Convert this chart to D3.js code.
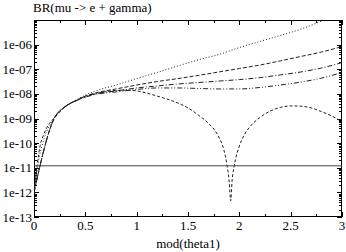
<!DOCTYPE html>
<html>
<head>
<meta charset="utf-8">
<script src="https://cdn.jsdelivr.net/npm/d3@7"></script>
<style>
  body { margin: 0; background: #fff; }
  text { font-family: "Liberation Serif", "Times New Roman", Times, "DejaVu Serif", serif; font-size: 13px; fill: #000; }
</style>
</head>
<body>
<script>
// x values (mod(theta1)) and log10(BR)
var thetaA = [0, 0.2, 0.3, 0.4, 0.5, 0.6, 0.8, 1.0, 1.2, 1.4, 1.6, 1.8, 2.0, 2.2, 2.4, 2.6, 2.8, 3.0];
var thetaB = [0, 0.05, 0.1, 0.2, 0.3, 0.4, 0.5, 0.6, 0.8, 1.0, 1.2, 1.4, 1.6, 1.8, 2.0, 2.2, 2.4, 2.6, 2.8, 3.0];
var dotted  = [-12.0, -10.6, -9.8, -8.97, -8.52, -8.28, -8.05, -7.88, -7.64, -7.38, -7.13, -6.87, -6.62, -6.40, -6.12, -5.87, -5.63, -5.37, -5.04, -4.68];
var dashed  = [-12.0, -8.97, -8.53, -8.29, -8.09, -7.96, -7.80, -7.64, -7.50, -7.38, -7.25, -7.11, -6.97, -6.83, -6.66, -6.48, -6.30, -6.08];
var dashDot = [-12.0, -8.97, -8.53, -8.29, -8.10, -7.99, -7.88, -7.76, -7.68, -7.60, -7.54, -7.48, -7.42, -7.34, -7.23, -7.11, -6.95, -6.73];
var dashDotDot = [-12.0, -8.97, -8.53, -8.30, -8.13, -8.02, -7.92, -7.82, -7.76, -7.76, -7.78, -7.80, -7.80, -7.74, -7.64, -7.52, -7.36, -7.13];

var thetaC = [0, 0.03, 0.06, 0.1, 0.15, 0.2, 0.3, 0.4, 0.5, 0.6, 0.8, 0.9, 1.0, 1.2, 1.4, 1.5, 1.6, 1.7, 1.8, 1.85, 1.88, 1.9, 1.916,
              1.93, 1.95, 2.0, 2.05, 2.1, 2.2, 2.3, 2.4, 2.5, 2.6, 2.7, 2.8, 2.9, 3.0];
var dip = [-12.0, -10.9, -10.1, -9.6, -9.2, -8.97, -8.53, -8.29, -8.13, -8.0, -7.86, -7.85, -7.88, -8.09, -8.37, -8.57, -8.86, -9.20, -9.75, -10.28, -10.89, -11.5, -12.34,
           -11.5, -10.93, -10.12, -9.65, -9.35, -8.96, -8.70, -8.55, -8.49, -8.50, -8.57, -8.72, -8.90, -9.13];

var megLimit = 1.2e-11;

var xTicks = [0, 0.5, 1, 1.5, 2, 2.5, 3];
var xTickLabels = ["0", "0.5", "1", "1.5", "2", "2.5", "3"];
var yTicks = [1e-13, 1e-12, 1e-11, 1e-10, 1e-9, 1e-8, 1e-7, 1e-6];
var yTickLabels = ["1e-13", "1e-12", "1e-11", "1e-10", "1e-09", "1e-08", "1e-07", "1e-06"];

var width = 346, height = 252;
var pLeft = 34, pRight = 342, pTop = 20, pBottom = 217;

var svg = d3.select('body').append('svg')
  .attr('width', width)
  .attr('height', height);

var x = d3.scaleLinear().domain([0, 3]).range([pLeft, pRight]);
var y = d3.scaleLog().domain([1e-13, 1e-5]).range([pBottom, pTop]);

svg.append('clipPath').attr('id', 'plot')
  .append('rect')
    .attr('x', pLeft).attr('y', pTop)
    .attr('width', pRight - pLeft).attr('height', pBottom - pTop);

// minor ticks
var xMinor = d3.range(0, 3.001, 0.25);
var yMinor = [];
for (var e = -13; e < -5; e++) {
  for (var m = 2; m <= 9; m++) yMinor.push(m * Math.pow(10, e));
}

var ticks = svg.append('g').attr('stroke', '#000').attr('stroke-width', 1);

xMinor.forEach(function(v) {
  var major = xTicks.indexOf(v) >= 0;
  var len = major ? 5 : 3;
  var px = Math.round(x(v)) + 0.5;
  ticks.append('line').attr('x1', px).attr('x2', px).attr('y1', pBottom).attr('y2', pBottom - len);
  ticks.append('line').attr('x1', px).attr('x2', px).attr('y1', pTop).attr('y2', pTop + len);
});

yTicks.forEach(function(v) {
  var py = Math.round(y(v)) + 0.5;
  ticks.append('line').attr('x1', pLeft).attr('x2', pLeft + 5).attr('y1', py).attr('y2', py);
  ticks.append('line').attr('x1', pRight).attr('x2', pRight - 5).attr('y1', py).attr('y2', py);
});
yMinor.forEach(function(v) {
  var py = Math.round(y(v)) + 0.5;
  ticks.append('line').attr('x1', pLeft).attr('x2', pLeft + 3).attr('y1', py).attr('y2', py);
  ticks.append('line').attr('x1', pRight).attr('x2', pRight - 3).attr('y1', py).attr('y2', py);
});

// frame
svg.append('rect')
  .attr('x', pLeft + 0.5).attr('y', pTop + 0.5)
  .attr('width', pRight - pLeft - 1).attr('height', pBottom - pTop - 1)
  .attr('fill', 'none').attr('stroke', '#000').attr('stroke-width', 1);

// tick labels
svg.selectAll('.xlab').data(xTicks).enter().append('text')
  .attr('class', 'xlab')
  .attr('x', function(d) { return x(d); })
  .attr('y', 230)
  .attr('text-anchor', 'middle')
  .text(function(d, i) { return xTickLabels[i]; });

svg.selectAll('.ylab').data(yTicks).enter().append('text')
  .attr('class', 'ylab')
  .attr('x', 32)
  .attr('y', function(d) { return y(d) + 4.5; })
  .attr('text-anchor', 'end')
  .text(function(d, i) { return yTickLabels[i]; });

svg.append('text').attr('x', 33).attr('y', 12).text('BR(mu -> e + gamma)');
svg.append('text').attr('x', (pLeft + pRight) / 2).attr('y', 248)
  .attr('text-anchor', 'middle').text('mod(theta1)');

// curves
var plot = svg.append('g').attr('clip-path', 'url(#plot)');

var line = function(xs) {
  return d3.line()
    .x(function(d, i) { return x(xs[i]); })
    .y(function(d) { return y(Math.pow(10, d)); })
    .curve(d3.curveMonotoneX);
};

var series = [
  { xs: thetaB, ys: dotted, dash: '1,2' },
  { xs: thetaA, ys: dashed, dash: '4,2' },
  { xs: thetaA, ys: dashDot, dash: '5,2,1,2' },
  { xs: thetaA, ys: dashDotDot, dash: '5,2,1,2,1,2' },
  { xs: thetaC, ys: dip, dash: '3,2' }
];

series.forEach(function(s) {
  plot.append('path')
    .datum(s.ys)
    .attr('d', line(s.xs))
    .attr('fill', 'none')
    .attr('stroke', '#222')
    .attr('stroke-width', 1)
    .attr('stroke-dasharray', s.dash);
});

plot.append('line')
  .attr('x1', pLeft).attr('x2', pRight)
  .attr('y1', y(megLimit)).attr('y2', y(megLimit))
  .attr('stroke', '#444').attr('stroke-width', 1);
</script>
</body>
</html>
